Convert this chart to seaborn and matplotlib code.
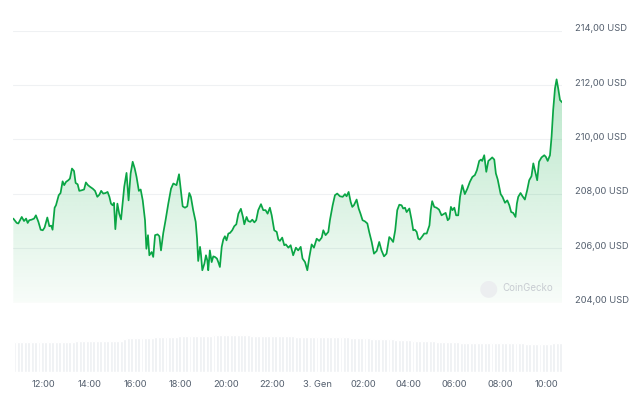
import numpy as np
import pandas as pd
import seaborn as sns
import matplotlib.pyplot as plt
import matplotlib.transforms as mtransforms

# price trace, time in hours from midnight of 2 Jan (24 = 3 Jan 00:00)
times = [
    10.67, 10.82, 10.89, 11.04, 11.14, 11.23, 11.30, 11.37, 11.47, 11.58,
    11.66, 11.77, 11.87, 11.96, 12.04, 12.16, 12.25, 12.33, 12.39, 12.48,
    12.54, 12.66, 12.74, 12.83, 12.90, 12.98, 13.08, 13.15, 13.24, 13.33,
    13.40, 13.49, 13.56, 13.66, 13.77, 13.85, 13.94, 14.03, 14.15, 14.25,
    14.35, 14.44, 14.52, 14.61, 14.71, 14.80, 14.88, 14.95, 15.02, 15.08,
    15.14, 15.23, 15.31, 15.39, 15.46, 15.53, 15.63, 15.72, 15.81, 15.90,
    15.99, 16.07, 16.17, 16.25, 16.34, 16.44, 16.50, 16.57, 16.63,
    16.73, 16.80, 16.88, 16.99, 17.07, 17.14, 17.24, 17.34, 17.46, 17.58,
    17.68, 17.82, 17.93, 18.01, 18.09, 18.19, 18.29, 18.38, 18.45, 18.55,
    18.66, 18.72, 18.77, 18.85, 18.89, 18.95, 19.04, 19.11, 19.17, 19.21,
    19.28, 19.36, 19.43, 19.50, 19.59, 19.65, 19.72, 19.80, 19.87, 19.94,
    20.01, 20.09, 20.16, 20.26, 20.35, 20.44, 20.53, 20.64, 20.73, 20.79,
    20.89, 20.96, 21.05, 21.14, 21.23, 21.31, 21.40, 21.52, 21.62, 21.72,
    21.81, 21.91, 21.99, 22.10, 22.21, 22.28, 22.35, 22.45, 22.54,
    22.61, 22.72, 22.82, 22.93, 23.05, 23.15, 23.26, 23.34, 23.45, 23.55,
    23.64, 23.74, 23.84, 23.96, 24.07, 24.18, 24.25, 24.35, 24.47, 24.54,
    24.66, 24.76, 24.86, 24.98, 25.10, 25.20, 25.27, 25.36, 25.45, 25.52,
    25.59, 25.71, 25.80, 25.88, 25.97, 26.07, 26.18, 26.26, 26.37, 26.47,
    26.59, 26.70, 26.80, 26.91, 27.02, 27.14, 27.21, 27.31, 27.40, 27.49,
    27.58, 27.68, 27.75, 27.83, 27.90, 28.02, 28.12, 28.19,
    28.26, 28.34, 28.41, 28.48, 28.59, 28.67, 28.78, 28.90, 28.96, 29.02,
    29.11, 29.21, 29.32, 29.43, 29.51, 29.61, 29.70, 29.77, 29.84, 29.91,
    29.99, 30.07, 30.16, 30.24, 30.34, 30.45, 30.56, 30.67, 30.78, 30.89,
    30.98, 31.08, 31.16, 31.21, 31.30, 31.39, 31.48, 31.55, 31.65, 31.74,
    31.81, 31.89, 31.94, 32.02, 32.10, 32.21, 32.31, 32.40, 32.48, 32.57,
    32.67, 32.73, 32.79, 32.89, 32.98, 33.08, 33.18, 33.27, 33.37, 33.45,
    33.52, 33.62, 33.70, 33.81, 33.93, 34.00, 34.08, 34.18, 34.25, 34.32,
    34.40, 34.47, 34.54, 34.62, 34.72,
]
prices = [
    207.09, 206.93, 206.91, 207.15, 207.00, 207.09, 206.93, 207.03, 207.05, 207.09,
    207.21, 206.97, 206.68, 206.66, 206.76, 207.13, 206.81, 206.83, 206.68, 207.49,
    207.58, 207.95, 208.03, 208.46, 208.32, 208.44, 208.50, 208.56, 208.93, 208.84,
    208.40, 208.35, 208.11, 208.13, 208.16, 208.42, 208.32, 208.26, 208.19, 208.11,
    207.89, 207.97, 208.11, 208.01, 208.03, 208.07, 207.89, 207.64, 207.58, 207.67,
    206.70, 207.64, 207.27, 207.06, 207.64, 208.26, 208.77, 207.76, 208.75, 209.18,
    208.93, 208.62, 208.11, 208.16, 207.76, 207.03, 205.98, 206.48, 205.74,
    205.86, 205.68, 206.48, 206.51, 206.44, 205.92, 206.56, 207.03, 207.64, 208.19,
    208.38, 208.32, 208.72, 208.13, 207.54, 207.49, 207.54, 208.03, 207.89, 207.40,
    206.97, 206.35, 205.53, 206.05, 205.78, 205.19, 205.43, 205.74, 205.55, 205.19,
    205.92, 205.49, 205.70, 205.68, 205.62, 205.49, 205.31, 206.05, 206.32, 206.44,
    206.29, 206.54, 206.56, 206.66, 206.81, 206.88, 207.27, 207.45, 207.15, 206.88,
    207.15, 207.00, 206.97, 207.05, 206.95, 207.03, 207.40, 207.62, 207.40, 207.40,
    207.27, 207.49, 207.21, 206.66, 206.60, 206.32, 206.27, 206.39, 206.11,
    206.14, 206.02, 206.11, 205.74, 206.02, 205.92, 206.05, 205.62, 205.49, 205.19,
    205.68, 206.14, 206.02, 206.35, 206.27, 206.39, 206.66, 206.48, 206.60, 207.03,
    207.58, 207.95, 208.01, 207.91, 207.89, 207.99, 207.91, 208.07, 207.70, 207.52,
    207.58, 207.79, 207.46, 207.27, 207.03, 206.99, 206.91, 206.60, 206.23, 205.80,
    205.90, 206.23, 205.92, 205.70, 205.80, 206.41, 206.35, 206.23, 206.66, 207.40,
    207.60, 207.58, 207.46, 207.49, 207.33, 207.46, 207.03, 206.66,
    206.68, 206.60, 206.35, 206.32, 206.44, 206.54, 206.54, 206.84, 207.40, 207.73,
    207.52, 207.49, 207.42, 207.21, 207.25, 207.30, 207.03, 207.09, 207.52, 207.40,
    207.49, 207.21, 207.21, 207.89, 208.32, 207.99, 208.19, 208.44, 208.62, 208.69,
    208.87, 209.21, 209.26, 209.21, 209.42, 208.81, 209.21, 209.26, 209.34, 209.26,
    208.75, 208.53, 208.32, 207.99, 207.89, 207.67, 207.76, 207.58, 207.33, 207.30,
    207.15, 207.64, 207.89, 208.03, 207.91, 207.79, 208.13, 208.50, 208.65, 209.12,
    208.87, 208.50, 209.18, 209.34, 209.42, 209.36, 209.21, 209.42, 210.10, 211.08,
    211.88, 212.21, 211.88, 211.45, 211.36,
]

# relative volume, one bar per ~9 minutes
volume = [
    30.0, 30.1, 30.0, 29.9, 30.0, 30.1, 30.0, 30.0, 29.9, 30.0, 30.1, 30.0, 30.0, 30.1, 30.0, 29.9, 30.0, 30.2,
    30.6, 30.7, 30.6, 30.7, 30.8, 30.7, 30.6, 30.7, 30.6, 30.7, 30.6, 30.5, 30.6, 30.9,
    33.2, 33.3, 33.4, 33.4, 33.5, 33.7, 33.8, 34.0, 34.1, 34.3, 34.4, 34.6, 34.8, 34.9, 35.1, 35.2, 35.4,
    35.6, 35.7, 35.7, 35.8, 35.9, 35.9, 36.0, 36.0, 36.2, 36.3,
    36.5, 36.6, 36.7, 36.7, 36.8, 36.7, 36.7, 36.6, 36.6, 36.5,
    36.2, 36.1, 36.0, 36.0, 35.9, 35.8, 35.8, 35.7, 35.7, 35.6, 35.6, 35.5,
    35.3, 35.2, 35.2, 35.1, 35.1, 35.0, 35.0, 35.1, 35.2, 35.2, 35.1, 35.0, 34.9, 34.8, 34.6,
    34.4, 34.3, 34.1, 34.0, 33.8, 33.7, 33.5, 33.4, 33.2, 33.0, 32.9, 32.7, 32.6, 32.4, 32.3, 32.1, 32.0, 31.8,
    31.5, 31.3, 31.2, 31.0, 30.9, 30.7, 30.6, 30.4, 30.3, 30.1, 30.0, 29.9, 29.7, 29.6, 29.5, 29.3, 29.2,
    29.0, 29.0, 28.9, 28.9, 28.8, 28.8, 28.7, 28.7, 28.6, 28.6, 28.6, 28.5, 28.5, 28.5, 28.4, 28.4, 28.3, 28.3, 28.2, 28.2,
    27.8, 27.8, 27.7, 27.7, 27.7, 27.8,
    29.0, 29.1, 28.9,
]

tick_hours = [12, 14, 16, 18, 20, 22, 24, 26, 28, 30, 32, 34]
tick_labels = ["12:00", "14:00", "16:00", "18:00", "20:00", "22:00", "3. Gen",
               "02:00", "04:00", "06:00", "08:00", "10:00"]
price_ticks = [204, 206, 208, 210, 212, 214]

assert len(times) == len(prices)

t0, t1 = times[0], times[-1]
step = (t1 - t0) / len(volume)
vol_df = pd.DataFrame({"t": [t0 + (i + 0.5) * step for i in range(len(volume))],
                       "vol": volume})
df = pd.DataFrame({"t": times, "price": prices})

sns.set_style("white")
plt.rcParams["font.family"] = ["Inter", "DejaVu Sans"]

green = "#0aa545"
label_col = "#55606f"

fig = plt.figure(figsize=(6.4, 3.98), dpi=100)
ax = fig.add_axes([13.3 / 640, 1 - 302.6 / 398, (562.3 - 13.3) / 640, (302.6 - 30.7) / 398])
axv = fig.add_axes([13.3 / 640, 1 - 372 / 398, (562.3 - 13.3) / 640, 37.3 / 398])

# gradient fill under the line
poly = ax.fill_between(df["t"], df["price"], 204, facecolor="none", edgecolor="none")
alpha = np.linspace(0.03, 0.28, 256)
grad = np.zeros((256, 1, 4))
grad[:, 0, 0] = 0 / 255
grad[:, 0, 1] = 168 / 255
grad[:, 0, 2] = 62 / 255
grad[:, 0, 3] = alpha
img = ax.imshow(grad, extent=[t0, t1, 204, 212.3], origin="lower", aspect="auto", zorder=1)
img.set_clip_path(poly.get_paths()[0], transform=ax.transData)

sns.lineplot(data=df, x="t", y="price", ax=ax, color=green, linewidth=1.25, zorder=3)

ax.set_xlim(t0, t1)
ax.set_ylim(204, 214)
ax.set_yticks(price_ticks)
ax.set_yticklabels([f"{v:.2f}".replace(".", ",") + " USD" for v in price_ticks])
ax.yaxis.tick_right()
ax.tick_params(axis="y", length=0, pad=9, labelsize=6.7, labelcolor=label_col)
ax.set_xticks([])
ax.grid(axis="y", color="#eff1f3", linewidth=0.8, zorder=0)
ax.set_axisbelow(True)
ax.set_xlabel("")
ax.set_ylabel("")
for s in ax.spines.values():
    s.set_visible(False)
up = mtransforms.ScaledTranslation(0, 2.2 / 72, fig.dpi_scale_trans)
for lab in ax.get_yticklabels():
    lab.set_transform(lab.get_transform() + up)

# volume bars
sns.barplot(data=vol_df, x="t", y="vol", ax=axv, native_scale=True, color="#edeff2",
            saturation=1, width=0.85, errorbar=None)
axv.set_xlim(t0, t1)
axv.set_ylim(0, 37)
axv.set_yticks([])
axv.set_xticks(tick_hours)
axv.set_xticklabels(tick_labels)
axv.tick_params(axis="x", length=3, width=0.6, color="#e3e6ea", pad=3,
                labelsize=6.7, labelcolor=label_col)
axv.set_xlabel("")
axv.set_ylabel("")
for s in axv.spines.values():
    s.set_visible(False)

# watermark
fig.text(488 / 640, 1 - 288 / 398, "\u25cf", ha="center", va="center", fontsize=16,
         color="#eceef0", family="DejaVu Sans")
fig.text(502 / 640, 1 - 288 / 398, "CoinGecko", ha="left", va="center", fontsize=7,
         color="#c8ccd2")

fig.savefig("out.png", dpi=100)
